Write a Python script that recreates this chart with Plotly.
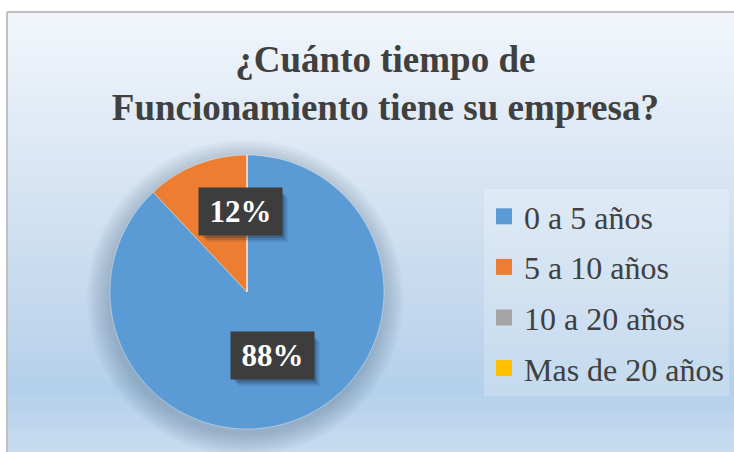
import math
import plotly.graph_objects as go

# ---- data ----
labels = ["0 a 5 años", "5 a 10 años", "10 a 20 años", "Mas de 20 años"]
values = [88, 12, 0, 0]
colors = ["#5B9BD5", "#ED7D31", "#A5A5A5", "#FFC000"]
title_lines = ["¿Cuánto tiempo de", "Funcionamiento tiene su empresa?"]

# ---- style / layout constants ----
W, H = 734, 452
SERIF = "Liberation Serif"
TXT = "#404040"
pie_dom_x = [110 / W, 384 / W]
pie_dom_y = [1 - 429 / H, 1 - 155 / H]
label_r = [0.50, 0.59, 0.5, 0.5]
label_nudge = [0, 17, 0, 0]
BOX_W, BOX_H = 81, 45

fig = go.Figure()

# gradient background (strips) inside the frame
stops = [(12, (242, 246, 251)), (150, (220, 232, 244)), (300, (196, 217, 238)),
         (390, (180, 208, 234)), (452, (200, 220, 240))]


def col_at(yp):
    for (y0, c0), (y1, c1) in zip(stops[:-1], stops[1:]):
        if y0 <= yp <= y1:
            t = (yp - y0) / (y1 - y0)
            return "rgb(%d,%d,%d)" % tuple(round(a + (b - a) * t) for a, b in zip(c0, c1))
    return "rgb(%d,%d,%d)" % stops[-1][1]


shapes = []
step = 3
yp = 13
while yp < H:
    shapes.append(dict(type="rect", xref="paper", yref="paper", layer="below",
                       x0=8 / W, x1=1, y0=1 - (yp + step + 0.5) / H, y1=1 - yp / H,
                       fillcolor=col_at(yp + step / 2), line=dict(width=0)))
    yp += step

# frame border (left & top)
shapes.append(dict(type="line", xref="paper", yref="paper", layer="below",
                   x0=7 / W, x1=7 / W, y0=0, y1=1 - 12 / H, line=dict(color="#BFBFBF", width=2)))
shapes.append(dict(type="line", xref="paper", yref="paper", layer="below",
                   x0=7 / W, x1=1, y0=1 - 12 / H, y1=1 - 12 / H, line=dict(color="#BFBFBF", width=2)))

# pie geometry (pixels) derived from domain
cx = (pie_dom_x[0] + pie_dom_x[1]) / 2 * W
cy = H * (1 - (pie_dom_y[0] + pie_dom_y[1]) / 2)
R = min((pie_dom_x[1] - pie_dom_x[0]) * W, (pie_dom_y[1] - pie_dom_y[0]) * H) / 2

# soft shadow under the pie
for k in range(9):
    rr = R + 1 + k * 2.5
    oy = 6
    shapes.append(dict(type="circle", xref="paper", yref="paper", layer="below",
                       x0=(cx - 2 - rr) / W, x1=(cx - 2 + rr) / W,
                       y0=1 - (cy + oy + rr) / H, y1=1 - (cy + oy - rr) / H,
                       fillcolor="rgba(70,90,120,0.035)", line=dict(width=0)))

fig.add_trace(go.Pie(
    labels=labels, values=values, sort=False, direction="clockwise", rotation=0,
    marker=dict(colors=colors, line=dict(color="rgba(255,255,255,0.6)", width=0.6)),
    textinfo="none", hoverinfo="label+percent", showlegend=False,
    domain=dict(x=pie_dom_x, y=pie_dom_y)))

# legend entries
for lab, c in zip(labels, colors):
    fig.add_trace(go.Scatter(x=[None], y=[None], mode="markers", name=lab, legendgroup=lab,
                             marker=dict(symbol="square", size=16, color=c), showlegend=True))

# data labels with dark boxes (shadow drawn as shapes above the pie)
total = sum(values)
annotations = []
cum = 0
for i, v in enumerate(values):
    if v > 0:
        th = math.radians(360 * (cum + v / 2) / total + label_nudge[i])
        px = cx + label_r[i] * R * math.sin(th)
        py = cy - label_r[i] * R * math.cos(th)
        txt = "%d%%" % round(v / total * 100)
        for dx, dy, a in [(7, 8, 0.10), (5, 6, 0.16), (3, 4, 0.22)]:
            shapes.append(dict(type="rect", xref="paper", yref="paper", layer="above",
                               x0=(px - BOX_W / 2 + dx) / W, x1=(px + BOX_W / 2 + dx) / W,
                               y0=1 - (py + BOX_H / 2 + dy) / H, y1=1 - (py - BOX_H / 2 + dy) / H,
                               fillcolor="rgba(20,30,50,%g)" % a, line=dict(width=0)))
        annotations.append(dict(x=px / W, y=1 - py / H, xref="paper", yref="paper",
                                xanchor="center", yanchor="middle",
                                text=txt, showarrow=False, width=BOX_W, height=BOX_H,
                                bgcolor="#3D3D3D",
                                font=dict(family=SERIF, size=31, color="white", weight="bold")))
    cum += v

fig.update_layout(
    width=W, height=H,
    margin=dict(l=0, r=0, t=0, b=0),
    paper_bgcolor="white", plot_bgcolor="rgba(0,0,0,0)",
    xaxis=dict(visible=False), yaxis=dict(visible=False),
    title=dict(text="<br>".join(title_lines), x=0.525, xanchor="center",
               y=1 - 72 / H, yanchor="top", yref="container",
               font=dict(family=SERIF, size=37, color=TXT, weight="bold")),
    legend=dict(x=484 / W, y=1 - 189 / H, xanchor="left", yanchor="top",
                bgcolor="rgba(255,255,255,0.22)", borderwidth=0,
                traceorder="grouped", tracegroupgap=6, entrywidth=205,
                font=dict(family=SERIF, size=32, color=TXT)),
    shapes=shapes, annotations=annotations,
)

fig.write_html("out.html", config={"displayModeBar": False},
               post_script="document.body.style.margin='0';document.body.style.overflow='hidden';")
